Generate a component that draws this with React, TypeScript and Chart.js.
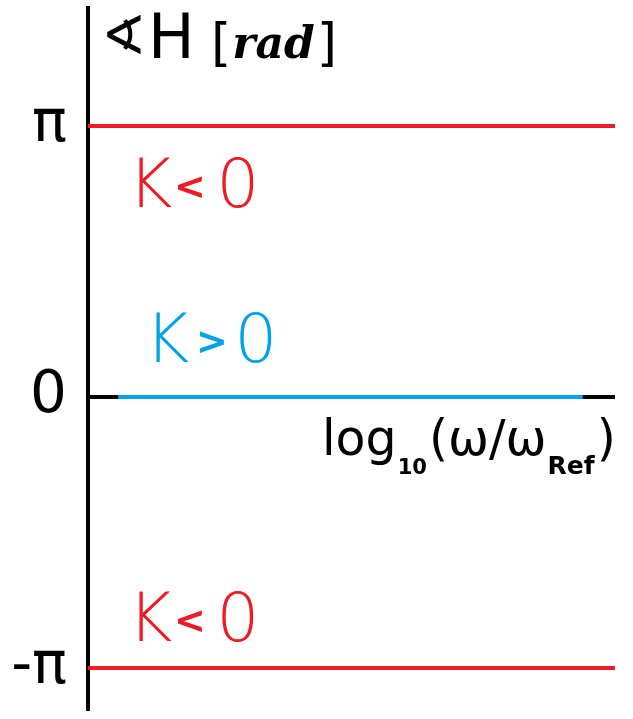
import React, { useEffect, useRef } from "react";
import { Chart, registerables } from "chart.js";

Chart.register(...registerables);

const PI = Math.PI;

// data
const lineX = [0, 10];
const kNegUpperY = [PI, PI];
const kNegLowerY = [-PI, -PI];
const kPosX = [0.57, 9.39];
const kPosY = [0, 0];
const axisY = [0, 0];
const yTickValues = [-PI, 0, PI];
const yTickLabels = ["-π", "0", "π"];

const RED = "#ED1C24";
const BLUE = "#00A2E8";
const BLACK = "#000000";
const FONT = '"DejaVu Sans", sans-serif';

const pts = (xs: number[], ys: number[]) => xs.map((x, i) => ({ x, y: ys[i] }));

function txt(ctx: CanvasRenderingContext2D, s: string, x: number, y: number, font: string, color: string, align: CanvasTextAlign = "left") {
  ctx.font = font;
  ctx.fillStyle = color;
  ctx.textAlign = align;
  ctx.textBaseline = "alphabetic";
  ctx.fillText(s, x, y);
  return ctx.measureText(s).width;
}

const labelsPlugin = {
  id: "labelsPlugin",
  afterDraw(chart: any) {
    const ctx: CanvasRenderingContext2D = chart.ctx;
    const ys = chart.scales.y;
    ctx.save();
    // y axis title
    txt(ctx, "∢", 101, 54, `54px ${FONT}`, BLACK);
    txt(ctx, "H", 148, 58, `62px ${FONT}`, BLACK);
    let x = 211;
    x += txt(ctx, "[", x, 60, `52px ${FONT}`, BLACK);
    x += txt(ctx, "rad", x + 1, 58, `italic 600 44px "DejaVu Serif", serif`, BLACK) + 3;
    txt(ctx, "]", x, 60, `52px ${FONT}`, BLACK);

    // K labels
    const yUp = ys.getPixelForValue(PI);
    const yZero = ys.getPixelForValue(0);
    const yLow = ys.getPixelForValue(-PI);
    const kFont = `300 68px ${FONT}`;
    const sFont = `bold 38px ${FONT}`;
    const drawK = (base: number, color: string, sign: string, kx: number, sx: number, ox: number) => {
      txt(ctx, "K", kx, base, kFont, color, "center");
      txt(ctx, sign, sx, base - 8, sFont, color, "center");
      txt(ctx, "0", ox, base, kFont, color, "center");
    };
    drawK(yUp + 81, RED, "<", 150, 190, 238);
    drawK(yZero - 35, BLUE, ">", 167, 212, 256);
    drawK(yLow - 27, RED, "<", 150, 190, 238);

    // x axis label
    let lx = 322;
    const b = yZero + 58;
    lx += txt(ctx, "log", lx, b, `49px ${FONT}`, BLACK);
    lx += txt(ctx, "10", lx + 1, b + 19, `bold 21px ${FONT}`, BLACK) + 3;
    lx += txt(ctx, "(ω/ω", lx, b, `49px ${FONT}`, BLACK);
    lx += txt(ctx, "Ref", lx + 1, b + 19, `bold 25px ${FONT}`, BLACK) + 3;
    txt(ctx, ")", lx, b, `49px ${FONT}`, BLACK);
    ctx.restore();
  },
};

export default function App() {
  const ref = useRef<HTMLCanvasElement>(null);
  useEffect(() => {
    if (!ref.current) return;
    const chart = new Chart(ref.current, {
      type: "line",
      data: {
        datasets: [
          { label: "K>0", data: pts(kPosX, kPosY), borderColor: BLUE, borderWidth: 4, pointRadius: 0, order: 0 },
          { label: "K<0 (π)", data: pts(lineX, kNegUpperY), borderColor: RED, borderWidth: 4, pointRadius: 0, order: 1 },
          { label: "K<0 (-π)", data: pts(lineX, kNegLowerY), borderColor: RED, borderWidth: 4, pointRadius: 0, order: 1 },
          { label: "axis", data: pts(lineX, axisY), borderColor: BLACK, borderWidth: 4, pointRadius: 0, order: 2 },
        ],
      },
      options: {
        animation: false,
        responsive: false,
        events: [],
        layout: { padding: { top: 8, bottom: 9, right: 18, left: 0 } },
        plugins: { legend: { display: false }, tooltip: { enabled: false } },
        scales: {
          x: { type: "linear", min: 0, max: 10, display: false },
          y: {
            type: "linear",
            min: -3.63,
            max: 4.51,
            grid: { display: false },
            border: { display: true, color: BLACK, width: 4 },
            afterBuildTicks: (scale: any) => {
              scale.ticks = yTickValues.map((v) => ({ value: v }));
            },
            afterFit: (scale: any) => {
              scale.width = 88;
              scale.paddingTop = 0;
              scale.paddingBottom = 0;
            },
            ticks: {
              color: BLACK,
              padding: 13,
              font: { size: 58, family: "DejaVu Sans" },
              callback: (v: any) => {
                const i = yTickValues.findIndex((t) => Math.abs(t - Number(v)) < 1e-6);
                return i >= 0 ? yTickLabels[i] : "";
              },
            },
          },
        },
      },
      plugins: [labelsPlugin],
    });
    return () => chart.destroy();
  }, []);
  return (
    <div style={{ position: "absolute", left: 0, top: 0, width: 633, height: 719, background: "#fff" }}>
      <canvas ref={ref} width={633} height={719} style={{ display: "block" }} />
    </div>
  );
}
